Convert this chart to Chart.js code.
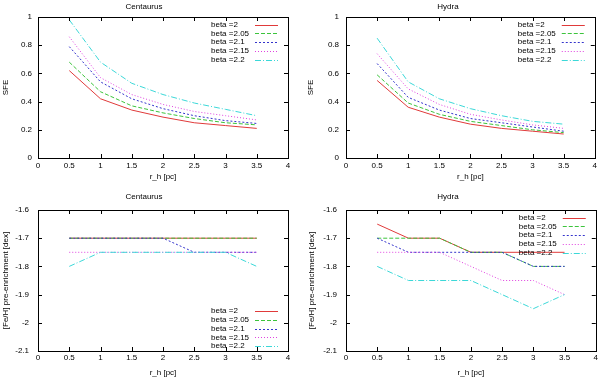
<!DOCTYPE html>
<html><head><meta charset="utf-8">
<script src="https://cdn.jsdelivr.net/npm/chart.js@4/dist/chart.umd.min.js"></script>
<style>
html,body{margin:0;padding:0;background:#fff;overflow:hidden;width:600px;height:377px;}
canvas{position:absolute;}
</style></head><body>
<canvas id="c1" width="300" height="188" style="left:0;top:0;width:300px;height:188px"></canvas>
<canvas id="c2" width="300" height="188" style="left:300px;top:0;width:300px;height:188px"></canvas>
<canvas id="c3" width="300" height="190" style="left:0;top:188px;width:300px;height:190px"></canvas>
<canvas id="c4" width="300" height="190" style="left:300px;top:188px;width:300px;height:190px"></canvas>
<script>
// ---- data ----
const rh = [0.5, 1, 1.5, 2, 2.5, 3, 3.5];
const betaLabels = ['beta =2', 'beta =2.05', 'beta =2.1', 'beta =2.15', 'beta =2.2'];
const xTicks = [0, 0.5, 1, 1.5, 2, 2.5, 3, 3.5, 4];
const sfeTicks = [0, 0.2, 0.4, 0.6, 0.8, 1];
const feTicks = [-2.1, -2, -1.9, -1.8, -1.7, -1.6];

const centSFE_b200 = [0.62, 0.42, 0.34, 0.29, 0.25, 0.23, 0.21];
const centSFE_b205 = [0.68, 0.47, 0.37, 0.32, 0.28, 0.25, 0.235];
const centSFE_b210 = [0.79, 0.54, 0.42, 0.35, 0.30, 0.265, 0.245];
const centSFE_b215 = [0.86, 0.57, 0.45, 0.38, 0.33, 0.30, 0.27];
const centSFE_b220 = [0.98, 0.68, 0.53, 0.45, 0.39, 0.345, 0.30];

const hydraSFE_b200 = [0.55, 0.36, 0.29, 0.24, 0.21, 0.19, 0.17];
const hydraSFE_b205 = [0.59, 0.39, 0.31, 0.26, 0.23, 0.20, 0.18];
const hydraSFE_b210 = [0.67, 0.43, 0.34, 0.28, 0.25, 0.22, 0.19];
const hydraSFE_b215 = [0.74, 0.49, 0.38, 0.31, 0.27, 0.235, 0.21];
const hydraSFE_b220 = [0.85, 0.54, 0.42, 0.35, 0.30, 0.26, 0.24];

const centFe_b200 = [-1.7, -1.7, -1.7, -1.7, -1.7, -1.7, -1.7];
const centFe_b205 = [-1.7, -1.7, -1.7, -1.7, -1.7, -1.7, -1.7];
const centFe_b210 = [-1.7, -1.7, -1.7, -1.7, -1.75, -1.75, -1.75];
const centFe_b215 = [-1.75, -1.75, -1.75, -1.75, -1.75, -1.75, -1.75];
const centFe_b220 = [-1.8, -1.75, -1.75, -1.75, -1.75, -1.75, -1.8];

const hydraFe_b200 = [-1.65, -1.7, -1.7, -1.75, -1.75, -1.75, -1.75];
const hydraFe_b205 = [-1.7, -1.7, -1.7, -1.75, -1.75, -1.8, -1.8];
const hydraFe_b210 = [-1.7, -1.75, -1.75, -1.75, -1.75, -1.8, -1.8];
const hydraFe_b215 = [-1.75, -1.75, -1.75, -1.8, -1.85, -1.85, -1.9];
const hydraFe_b220 = [-1.8, -1.85, -1.85, -1.85, -1.9, -1.95, -1.9];

// ---- styles ----
const lineColors = ['#e03a3a', '#3cc43c', '#3434cc', '#e040e0', '#3cd8d8'];
const lineDashes = [[], [4, 2], [2, 2], [1, 2], [6, 2, 1, 2]];

const FONT = "'Liberation Sans', Arial, Helvetica, sans-serif";
Chart.defaults.font.family = FONT;
Chart.defaults.font.size = 8;
Chart.defaults.color = '#000';

function fmt(v) { return String(Number(v.toFixed(3))); }

const framePlugin = {
  id: 'frame',
  afterDatasetsDraw(chart) {
    const {ctx, chartArea: a, scales} = chart;
    ctx.save();
    ctx.strokeStyle = '#000';
    ctx.lineWidth = 1;
    ctx.setLineDash([]);
    ctx.strokeRect(Math.round(a.left) + 0.5, Math.round(a.top) + 0.5,
                   Math.round(a.right) - Math.round(a.left), Math.round(a.bottom) - Math.round(a.top));
    const L = 4;
    ctx.beginPath();
    scales.x.ticks.forEach(t => {
      const px = Math.round(scales.x.getPixelForValue(t.value)) + 0.5;
      ctx.moveTo(px, a.bottom); ctx.lineTo(px, a.bottom - L);
      ctx.moveTo(px, a.top); ctx.lineTo(px, a.top + L);
    });
    scales.y.ticks.forEach(t => {
      const py = Math.round(scales.y.getPixelForValue(t.value)) + 0.5;
      ctx.moveTo(a.left, py); ctx.lineTo(a.left + L, py);
      ctx.moveTo(a.right, py); ctx.lineTo(a.right - L, py);
    });
    ctx.stroke();
    ctx.restore();
    // legend
    const pos = chart.options.plugins.frame.legend;
    const n = chart.data.datasets.length;
    const rowH = 8.7;
    const y0 = pos === 'top' ? a.top + 7.7 : a.bottom - 5 - (n - 1) * rowH;
    for (let i = 0; i < n; i++) {
      const y = y0 + i * rowH;
      ctx.save();
      ctx.font = '8px ' + FONT;
      ctx.textAlign = 'left';
      ctx.textBaseline = 'middle';
      ctx.fillStyle = '#000';
      ctx.fillText(betaLabels[i], a.right - 77, y);
      ctx.lineWidth = 1;
      ctx.strokeStyle = lineColors[i];
      ctx.setLineDash(lineDashes[i]);
      ctx.beginPath();
      ctx.moveTo(a.right - 33, Math.round(y) + 0.5);
      ctx.lineTo(a.right - 10, Math.round(y) + 0.5);
      ctx.stroke();
      ctx.restore();
    }
  }
};

function makeChart(id, p) {
  const datasets = p.series.map((arr, i) => ({
    label: betaLabels[i],
    data: rh.map((x, j) => ({x: x, y: arr[j]})),
    borderColor: lineColors[i],
    borderDash: lineDashes[i],
    borderWidth: 1,
    pointRadius: 0,
    tension: 0,
    fill: false,
    order: p.series.length - 1 - i
  }));
  return new Chart(document.getElementById(id), {
    type: 'line',
    data: {datasets},
    plugins: [framePlugin],
    options: {
      responsive: false,
      animation: false,
      devicePixelRatio: 1,
      layout: {padding: {left: 0, right: p.padRight, top: 0, bottom: 0}},
      plugins: {
        legend: {display: false},
        tooltip: {enabled: false},
        title: {display: true, text: p.title, font: {size: 8, weight: 'normal'}, color: '#000',
                padding: {top: p.titleTop, bottom: p.titleBottom}},
        frame: {legend: p.legend}
      },
      scales: {
        x: {
          type: 'linear', min: 0, max: 4,
          afterBuildTicks: s => { s.ticks = xTicks.map(v => ({value: v})); },
          afterFit: s => { s.height = p.xHeight; },
          grid: {display: false, drawTicks: false},
          border: {display: false},
          ticks: {padding: p.xTickPad, callback: v => fmt(v), maxRotation: 0, autoSkip: false},
          title: {display: true, text: 'r_h [pc]', font: {size: 8}, padding: {top: 0, bottom: p.xTitleBottom}}
        },
        y: {
          type: 'linear', min: p.yTicks[0], max: p.yTicks[p.yTicks.length - 1],
          afterBuildTicks: s => { s.ticks = p.yTicks.map(v => ({value: v})); },
          afterFit: s => { s.width = p.yWidth; },
          grid: {display: false, drawTicks: false},
          border: {display: false},
          ticks: {padding: p.yTickPad, callback: v => fmt(v), autoSkip: false},
          title: {display: true, text: p.yTitle, font: {size: 8}, padding: {top: p.yTitlePad, bottom: 0}}
        }
      }
    }
  });
}

makeChart('c1', {title: 'Centaurus', yTitle: 'SFE', yTicks: sfeTicks, legend: 'top',
  series: [centSFE_b200, centSFE_b205, centSFE_b210, centSFE_b215, centSFE_b220],
  padRight: 12, titleTop: 2, titleBottom: 5.4, xHeight: 30, xTickPad: 3, xTitleBottom: 6,
  yWidth: 38, yTickPad: 6, yTitlePad: 1.2});
makeChart('c2', {title: 'Hydra', yTitle: 'SFE', yTicks: sfeTicks, legend: 'top',
  series: [hydraSFE_b200, hydraSFE_b205, hydraSFE_b210, hydraSFE_b215, hydraSFE_b220],
  padRight: 4, titleTop: 2, titleBottom: 5.4, xHeight: 30, xTickPad: 3, xTitleBottom: 6,
  yWidth: 46, yTickPad: 7, yTitlePad: 6.2});
makeChart('c3', {title: 'Centaurus', yTitle: '[Fe/H] pre-enrichment [dex]', yTicks: feTicks, legend: 'bottom',
  series: [centFe_b200, centFe_b205, centFe_b210, centFe_b215, centFe_b220],
  padRight: 12, titleTop: 4, titleBottom: 8.4, xHeight: 27, xTickPad: 2, xTitleBottom: 0.5,
  yWidth: 38, yTickPad: 9, yTitlePad: 1});
makeChart('c4', {title: 'Hydra', yTitle: '[Fe/H] pre-enrichment [dex]', yTicks: feTicks, legend: 'top',
  series: [hydraFe_b200, hydraFe_b205, hydraFe_b210, hydraFe_b215, hydraFe_b220],
  padRight: 4, titleTop: 4, titleBottom: 8.4, xHeight: 27, xTickPad: 2, xTitleBottom: 0.5,
  yWidth: 46, yTickPad: 9, yTitlePad: 7});
</script>
</body></html>
